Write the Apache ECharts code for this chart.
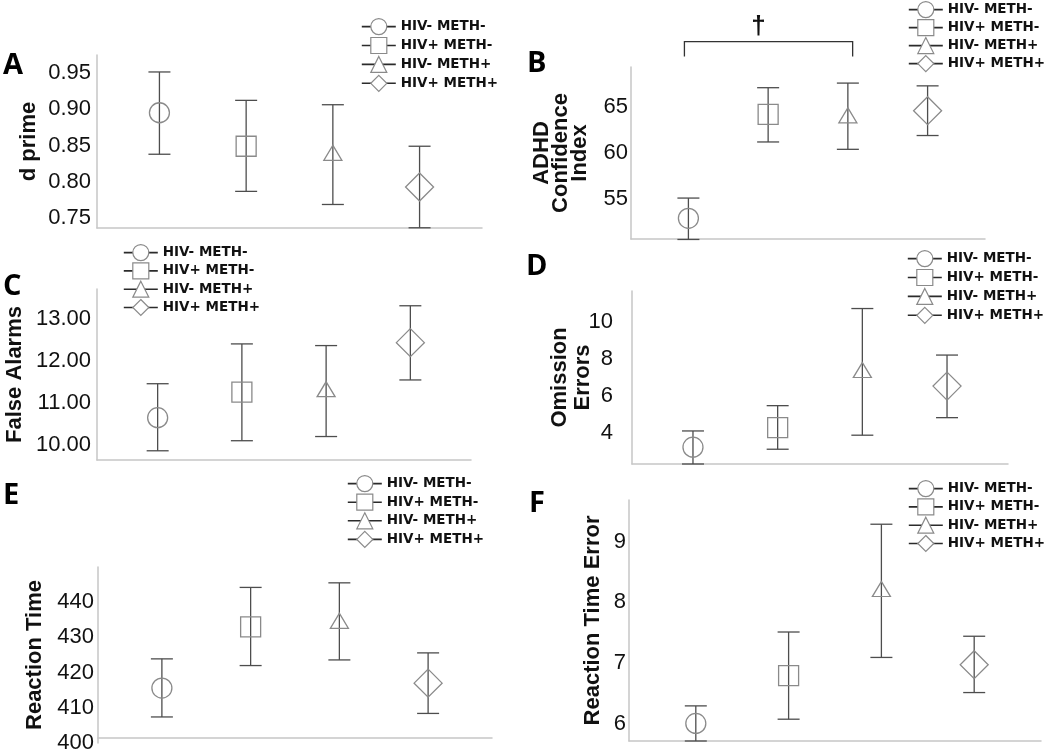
<!DOCTYPE html>
<html>
<head>
<meta charset="utf-8">
<title>Attention task results</title>
<script src="https://cdn.jsdelivr.net/npm/echarts@6/dist/echarts.min.js"></script>
<style>
  html, body { margin: 0; padding: 0; background: #fff; }
  #chart { width: 1050px; height: 751px; }
</style>
</head>
<body>
<div id="chart"></div>
<script>
// groups and their x position on each panel
const groups = ['HIV- METH-', 'HIV+ METH-', 'HIV- METH+', 'HIV+ METH+'];
const groupPos = [1, 2, 3, 4];
const groupSymbols = ['circle', 'rect', 'triangle', 'diamond'];

// A: d prime
const dPrimeMean = [0.895, 0.849, 0.840, 0.793];
const dPrimeLow = [0.838, 0.787, 0.769, 0.737];
const dPrimeHigh = [0.951, 0.912, 0.906, 0.849];
const dPrimeTicks = [0.75, 0.80, 0.85, 0.90, 0.95];

// B: ADHD confidence index
const adhdMean = [52.9, 64.2, 64.1, 64.6];
const adhdLow = [50.6, 61.2, 60.4, 61.9];
const adhdHigh = [55.1, 67.1, 67.6, 67.3];
const adhdTicks = [55, 60, 65];
// bracket: x from, x to, top, foot, mark x, mark y
const adhdBracket = [[0.95, 3.06, 72.1, 70.5, 1.88, 73.7]];

// C: false alarms
const falseMean = [10.65, 11.26, 11.33, 12.44];
const falseLow = [9.86, 10.10, 10.20, 11.55];
const falseHigh = [11.46, 12.41, 12.37, 13.32];
const falseTicks = [10, 11, 12, 13];

// D: omission errors
const omitMean = [3.23, 4.29, 7.41, 6.54];
const omitLow = [2.32, 3.12, 3.88, 4.83];
const omitHigh = [4.11, 5.48, 10.74, 8.22];
const omitTicks = [4, 6, 8, 10];

// E: reaction time
const rtMean = [415.6, 433.0, 434.7, 417.0];
const rtLow = [407.4, 422.0, 423.6, 408.4];
const rtHigh = [423.9, 444.2, 445.5, 425.6];
const rtTicks = [400, 410, 420, 430, 440];

// F: reaction time error
const rteMean = [6.0, 6.79, 8.22, 6.97];
const rteLow = [5.71, 6.07, 7.09, 6.51];
const rteHigh = [6.29, 7.51, 9.29, 7.44];
const rteTicks = [6, 7, 8, 9];

const panels = [
  { letter: 'A', mean: dPrimeMean, low: dPrimeLow, high: dPrimeHigh, ticks: dPrimeTicks, digits: 2,
    name: 'd prime', min: 0.7367, max: 0.9743,
    grid: { left: 97, top: 55, width: 385, height: 173 }, nameGap: 56, labelMargin: 6,
    legend: { left: 361, top: 18, gap: 1.7 }, letterPos: [3, 66] },
  { letter: 'B', mean: adhdMean, low: adhdLow, high: adhdHigh, ticks: adhdTicks, digits: 0,
    name: 'ADHD\nConfidence\nIndex', lineHeight: 19, min: 50.65, max: 69.35,
    grid: { left: 631, top: 67, width: 354, height: 172 }, nameGap: 42, labelMargin: 3,
    legend: { left: 908, top: 1, gap: 0.8 }, letterPos: [527, 64] },
  { letter: 'C', mean: falseMean, low: falseLow, high: falseHigh, ticks: falseTicks, digits: 2,
    name: 'False Alarms', min: 9.64, max: 13.72,
    grid: { left: 97, top: 289, width: 374, height: 171 }, nameGap: 70, labelMargin: 6,
    legend: { left: 123, top: 244, gap: 1.1 }, letterPos: [3, 287] },
  { letter: 'D', mean: omitMean, low: omitLow, high: omitHigh, ticks: omitTicks, digits: 0,
    name: 'Omission\nErrors', lineHeight: 23, min: 2.32, max: 11.69,
    grid: { left: 632, top: 291, width: 376, height: 173 }, nameGap: 38, labelMargin: 19,
    legend: { left: 907, top: 250, gap: 1.7 }, letterPos: [526, 267] },
  { letter: 'E', mean: rtMean, low: rtLow, high: rtHigh, ticks: rtTicks, digits: 0,
    name: 'Reaction Time', min: 400, max: 450, xOffset: -5,
    grid: { left: 98, top: 567, width: 394, height: 176 }, nameGap: 51, labelMargin: 4,
    legend: { left: 347, top: 475, gap: 1.4 }, letterPos: [3, 496] },
  { letter: 'F', mean: rteMean, low: rteLow, high: rteHigh, ticks: rteTicks, digits: 0,
    name: 'Reaction Time Error', min: 5.71, max: 9.69,
    grid: { left: 629, top: 500, width: 412, height: 241 }, nameGap: 24, labelMargin: 3,
    legend: { left: 908, top: 480, gap: 1.1 }, letterPos: [529, 504] }
];

const axisGray = '#c6c6c6';
const barColor = '#4d4d4d';
const symbolColor = '#8a8a8a';

function renderErrorBar(params, api) {
  const x = api.value(0);
  const lowPt = api.coord([x, api.value(1)]);
  const highPt = api.coord([x, api.value(2)]);
  const half = 11;
  const style = { stroke: barColor, lineWidth: 1.3 };
  return {
    type: 'group',
    children: [
      { type: 'line', shape: { x1: highPt[0], y1: highPt[1], x2: lowPt[0], y2: lowPt[1] }, style: style },
      { type: 'line', shape: { x1: highPt[0] - half, y1: highPt[1], x2: highPt[0] + half, y2: highPt[1] }, style: style },
      { type: 'line', shape: { x1: lowPt[0] - half, y1: lowPt[1], x2: lowPt[0] + half, y2: lowPt[1] }, style: style }
    ]
  };
}

function renderBracket(params, api) {
  const left = api.coord([api.value(0), api.value(2)]);
  const right = api.coord([api.value(1), api.value(2)]);
  const foot = api.coord([api.value(0), api.value(3)]);
  const mark = api.coord([api.value(4), api.value(5)]);
  const style = { stroke: '#333', lineWidth: 1.3, fill: 'none' };
  return {
    type: 'group',
    children: [
      { type: 'polyline', shape: { points: [[left[0], foot[1]], left, right, [right[0], foot[1]]] }, style: style },
      { type: 'text', x: mark[0], y: mark[1],
        style: { text: '†', font: 'bold 26px "Liberation Sans", Arial', fill: '#111', textAlign: 'center', textVerticalAlign: 'middle' } }
    ]
  };
}

const grids = [], xAxes = [], yAxes = [], legends = [], series = [], letters = [];

panels.forEach(function (p, i) {
  grids.push(Object.assign({ outerBoundsMode: 'none', containLabel: false }, p.grid));
  xAxes.push({
    gridIndex: i, type: 'value', min: 0.28, max: 4.72,
    offset: p.xOffset || 0,
    axisLabel: { show: false }, axisTick: { show: false }, splitLine: { show: false },
    axisLine: { show: true, onZero: false, lineStyle: { color: axisGray, width: 1.5 } }
  });
  yAxes.push({
    gridIndex: i, type: 'value', min: p.min, max: p.max,
    name: p.name, nameLocation: 'middle', nameGap: p.nameGap, nameMoveOverlap: false,
    nameTextStyle: { fontFamily: '"Liberation Sans", Arial', fontWeight: 'bold', fontSize: 22, color: '#111',
      lineHeight: p.lineHeight || 25 },
    axisLine: { show: true, lineStyle: { color: axisGray, width: 1.5 } },
    axisTick: { show: false }, splitLine: { show: false },
    axisLabel: {
      customValues: p.ticks, margin: p.labelMargin,
      fontFamily: '"Liberation Sans", Arial', fontSize: 22, color: '#111',
      formatter: function (v) { return Number(v).toFixed(p.digits); }
    }
  });
  legends.push({
    data: groups, orient: 'vertical', left: p.legend.left, top: p.legend.top,
    itemWidth: 34, itemHeight: 20, itemGap: p.legend.gap, padding: 0, selectedMode: false,
    itemStyle: { color: '#fff', borderColor: symbolColor, borderWidth: 1.2 },
    lineStyle: { color: '#2b2b2b', width: 1.6 },
    textStyle: { fontFamily: '"DejaVu Sans", sans-serif', fontWeight: 'bold', fontSize: 13.5, color: '#111' }
  });
  groups.forEach(function (g, k) {
    const sym = groupSymbols[k];
    series.push({
      name: g, type: 'line', xAxisIndex: i, yAxisIndex: i,
      data: [[groupPos[k], p.mean[k]]],
      symbol: sym,
      symbolSize: sym === 'diamond' ? 28 : sym === 'triangle' ? [18, 15] : 20,
      itemStyle: { color: 'rgba(0,0,0,0)', borderColor: symbolColor, borderWidth: 1.3 },
      lineStyle: { color: '#2b2b2b', width: 1 },
      z: 3, silent: true
    });
  });
  series.push({
    type: 'custom', xAxisIndex: i, yAxisIndex: i, renderItem: renderErrorBar,
    encode: { x: 0, y: [1, 2] }, silent: true, z: 2,
    data: groupPos.map(function (x, k) { return [x, p.low[k], p.high[k]]; })
  });
  letters.push({
    type: 'text', x: p.letterPos[0], y: p.letterPos[1],
    style: { text: p.letter, font: 'bold 29px "Open Sans", sans-serif', fill: '#000', textVerticalAlign: 'middle' }
  });
});

series.push({
  type: 'custom', xAxisIndex: 1, yAxisIndex: 1, renderItem: renderBracket, clip: false,
  encode: { x: [0, 1], y: [2, 3] }, silent: true, data: adhdBracket
});

const chart = echarts.init(document.getElementById('chart'));
chart.setOption({
  backgroundColor: '#fff',
  animation: false,
  grid: grids,
  xAxis: xAxes,
  yAxis: yAxes,
  legend: legends,
  graphic: { elements: letters },
  series: series
});
</script>
</body>
</html>
